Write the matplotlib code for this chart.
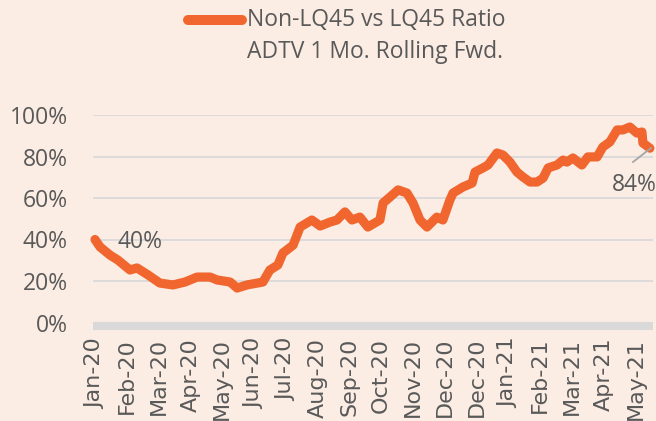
import matplotlib
matplotlib.use("Agg")
import matplotlib.pyplot as plt
from matplotlib.lines import Line2D

# ---- data ----
tick_labels = ["Jan-20", "Feb-20", "Mar-20", "Apr-20", "May-20", "Jun-20", "Jul-20",
               "Aug-20", "Sep-20", "Oct-20", "Nov-20", "Dec-20", "Dec-20", "Jan-21",
               "Feb-21", "Mar-21", "Apr-21", "May-21"]
# position in tick-label intervals (0 = Jan-20 label)
t = [0.00, 0.16, 0.47, 0.72, 1.10, 1.32, 1.67, 2.04, 2.45, 2.83, 3.21, 3.62, 3.84, 4.25,
     4.47, 4.78, 5.28, 5.50, 5.75, 5.91, 6.23, 6.45, 6.82, 7.08, 7.39, 7.61, 7.86, 8.08,
     8.33, 8.58, 8.96, 9.06, 9.28, 9.53, 9.81, 10.00, 10.22, 10.44, 10.75, 10.94, 11.16,
     11.26, 11.57, 11.86, 11.95, 12.20, 12.36, 12.64, 12.83, 13.05, 13.27, 13.46, 13.68,
     13.90, 14.09, 14.25, 14.53, 14.72, 14.84, 15.03, 15.31, 15.50, 15.79, 15.97, 16.19,
     16.42, 16.60, 16.82, 17.04, 17.20, 17.23, 17.45]
ratio = [40.0, 36.4, 32.5, 30.1, 25.3, 26.3, 22.9, 19.0, 18.1, 19.5, 21.9, 21.9, 20.5, 19.5,
         16.6, 18.1, 19.5, 25.3, 27.7, 33.5, 37.3, 46.0, 49.4, 46.5, 48.4, 49.4, 53.3, 49.4,
         50.8, 46.0, 49.4, 57.6, 60.5, 63.9, 62.4, 57.6, 49.4, 46.0, 50.8, 49.4, 59.0,
         62.4, 65.3, 67.2, 72.5, 74.5, 75.9, 81.7, 80.7, 77.3, 72.5, 70.1, 67.7,
         67.7, 69.6, 74.5, 75.9, 78.3, 77.3, 79.3, 75.9, 79.8, 79.8, 84.6, 87.0,
         92.8, 92.8, 94.2, 91.3, 91.8, 86.5, 84.0]
y_ticks = [0, 20, 40, 60, 80, 100]
legend_lines = ["Non-LQ45 vs LQ45 Ratio", "ADTV 1 Mo. Rolling Fwd."]

BG = "#FBEDE4"
ORANGE = "#F1662F"
TXT = "#595959"
GRID = "#D9D9D9"
FONT = "Open Sans"

W, H = 656, 421
fig = plt.figure(figsize=(W / 100, H / 100), dpi=100, facecolor=BG)
x0, x1, ybot, ytop = 93, 653, 322.5, 115
ax = fig.add_axes([x0 / W, (H - ybot) / H, (x1 - x0) / W, (ybot - ytop) / H])
ax.set_facecolor(BG)

x_min = (x0 - 95) / 31.8
x_max = (x1 - 95) / 31.8
ax.set_xlim(x_min, x_max)
ax.set_ylim(0, 100)

for v in y_ticks[1:]:
    ax.axhline(v, color=GRID, lw=1.3, zorder=1)
# thick baseline bar just below zero
ax.axhline(-1.9, color="#D9D9D9", lw=5.8, zorder=1, clip_on=False, solid_capstyle="butt")

ax.plot(t, ratio, color=ORANGE, lw=6.6, solid_capstyle="round", solid_joinstyle="round",
        zorder=3, clip_on=False)

for s in ax.spines.values():
    s.set_visible(False)

ax.set_yticks(y_ticks)
ax.set_yticklabels([f"{v}%" for v in y_ticks], fontname=FONT, fontsize=16.5, color=TXT)
ax.set_xticks(range(len(tick_labels)))
ax.set_xticklabels(tick_labels, rotation=90, fontname="DejaVu Sans", fontsize=16,
                   color=TXT, va="top", ha="center")
ax.tick_params(axis="both", length=0)
ax.tick_params(axis="y", pad=18)
ax.tick_params(axis="x", pad=11)

# data labels
ax.annotate(f"{ratio[0]:.0f}%", xy=(t[0], ratio[0]), xytext=(117, H - 242),
            textcoords="figure pixels", fontname=FONT, fontsize=16.5, color=TXT,
            ha="left", va="center")
ax.annotate(f"{ratio[-1]:.0f}%", xy=(t[-1], ratio[-1]), xytext=(612, H - 185),
            textcoords="figure pixels", fontname=FONT, fontsize=16.5, color=TXT,
            ha="left", va="center", annotation_clip=False)
fig.add_artist(Line2D([633 / W, 651 / W], [(H - 162) / H, (H - 148) / H],
                      color="#A6A6A6", lw=1.3, zorder=5))

# legend (manual)
fig.add_artist(Line2D([188 / W, 242 / W], [(H - 20) / H, (H - 20) / H], color=ORANGE,
                      lw=7.2, solid_capstyle="round"))
fig.text(247 / W, (H - 20) / H, legend_lines[0], fontname=FONT, fontsize=16.5, color=TXT,
         ha="left", va="center")
fig.text(247 / W, (H - 52) / H, legend_lines[1], fontname=FONT, fontsize=16.5, color=TXT,
         ha="left", va="center")

fig.savefig("out.png", dpi=100, facecolor=BG)
